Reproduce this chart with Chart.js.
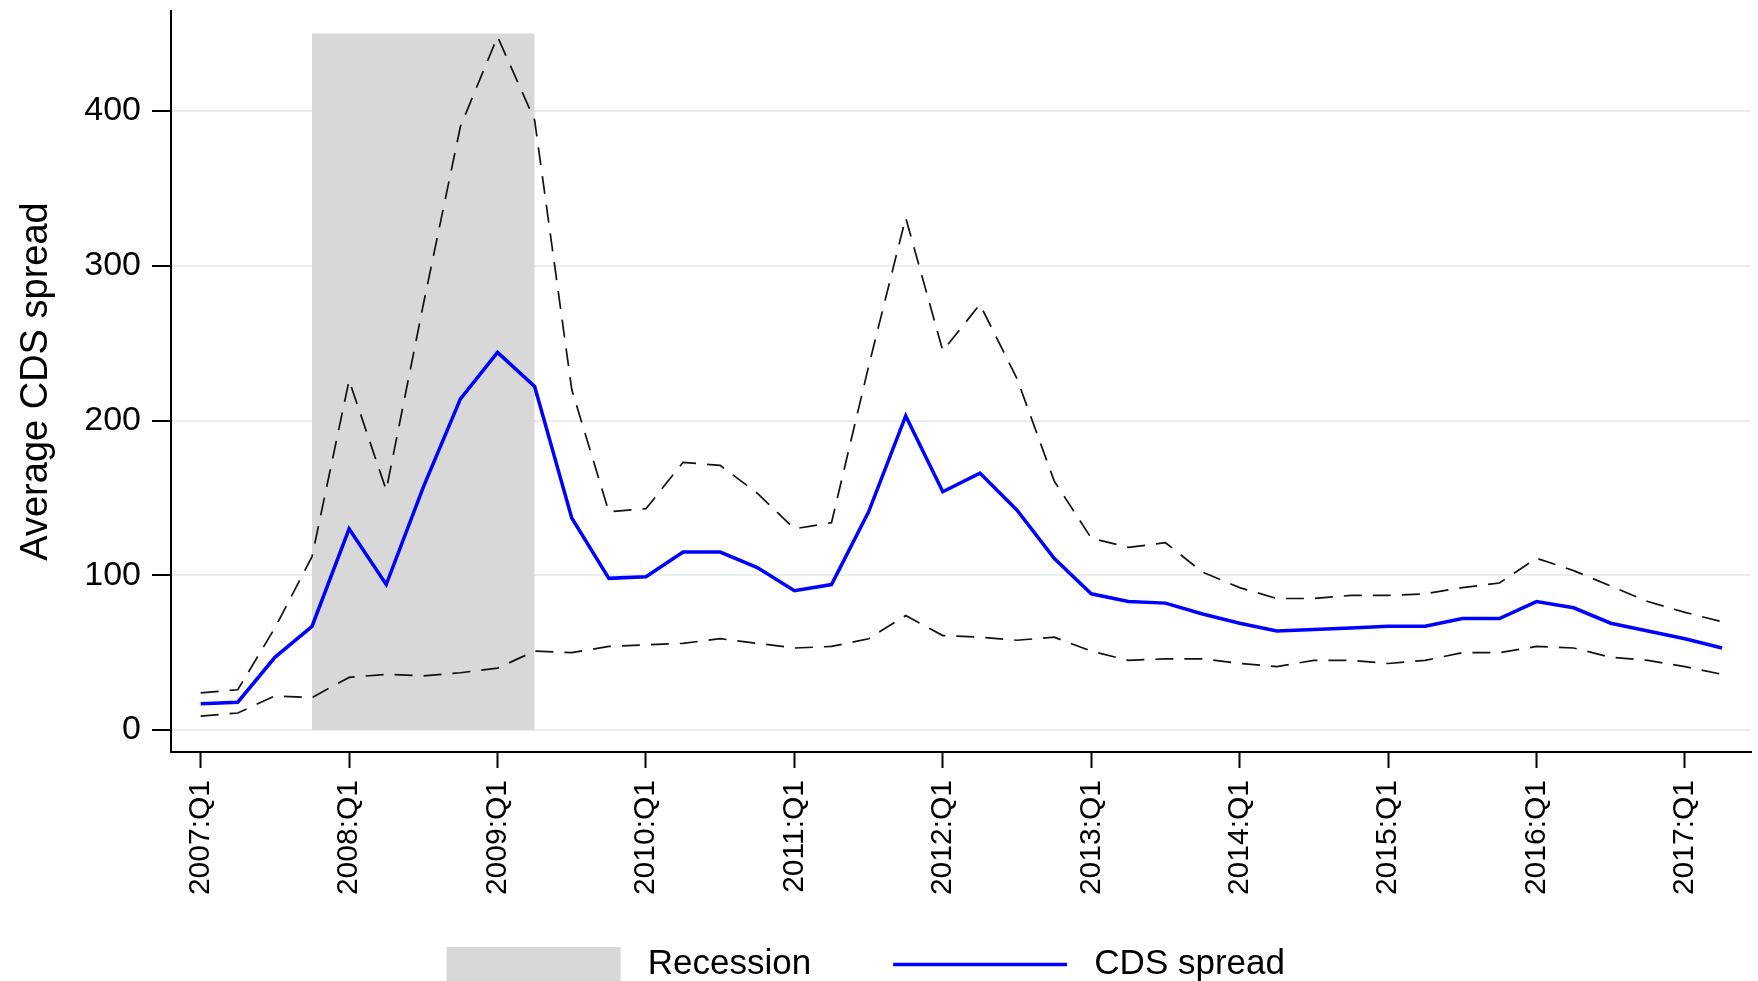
<!DOCTYPE html>
<html>
<head>
<meta charset="utf-8">
<title>Average CDS spread</title>
<script src="https://cdn.jsdelivr.net/npm/chart.js@4.4.1/dist/chart.umd.min.js"></script>
<style>
    html, body { margin: 0; padding: 0; background: #fff; overflow: hidden; }
    #wrap { position: relative; width: 1758px; height: 992px; }
</style>
</head>
<body>
<div id="wrap"><canvas id="chartCds"></canvas></div>
<script>
// Quarters 2007:Q1 .. 2017:Q2
const quarters = [];
for (let year = 2007; year <= 2017; year++) {
    for (let q = 1; q <= 4; q++) quarters.push(year + ':Q' + q);
}
quarters.length = 42;

// Average CDS spread (blue line)
const cdsSpread = [17, 18, 47, 67, 130, 94, 157, 214, 244, 222,
    137, 98, 99, 115, 115, 105, 90, 94, 141, 203,
    154, 166, 142, 111, 88, 83, 82, 75, 69, 64,
    65, 66, 67, 67, 72, 72, 83, 79, 69, 64,
    59, 53];

// Upper dashed band
const upperBand = [24, 26, 66, 112, 226, 155, 275, 390, 448, 394,
    220, 141, 143, 173, 171, 153, 130, 134, 235, 331,
    245, 275, 227, 161, 124, 118, 121, 102, 92, 85,
    85, 87, 87, 88, 92, 95, 111, 103, 93, 83,
    76, 70];

// Lower dashed band
const lowerBand = [9, 11, 22, 21, 34, 36, 35, 37, 40, 51,
    50, 54, 55, 56, 59, 56, 53, 54, 59, 74,
    61, 60, 58, 60, 51, 45, 46, 46, 43, 41,
    45, 45, 43, 45, 50, 50, 54, 53, 47, 45,
    41, 36];

// Recession shading
const recessionFrom = '2007:Q4';
const recessionTo = '2009:Q2';
const recessionTop = 450;

// Axis ticks
const xTickLabels = ['2007:Q1', '2008:Q1', '2009:Q1', '2010:Q1', '2011:Q1', '2012:Q1',
    '2013:Q1', '2014:Q1', '2015:Q1', '2016:Q1', '2017:Q1'];
const yTickValues = [0, 100, 200, 300, 400];

const FONT = "'Liberation Sans', Arial, Helvetica, sans-serif";

const toPoints = arr => arr.map((v, i) => ({ x: i, y: v }));

// legend text spacing (gap between key and text, and between the two entries)
const legendText = {
    'Recession': ' Recession    ',
    'CDS spread': ' CDS spread  '
};

const ctxCds = document.getElementById('chartCds').getContext('2d');

const cdsChart = new Chart(ctxCds, {
    type: 'line',
    data: {
        datasets: [
            {
                label: 'CDS spread',
                data: toPoints(cdsSpread),
                borderColor: '#0000ff',
                borderWidth: 3.5,
                pointRadius: 0,
                pointHoverRadius: 0,
                pointStyle: 'line',
                pointBorderColor: '#0000ff',
                pointBorderWidth: 3.5,
                fill: false,
                tension: 0
            },
            {
                label: 'Upper band',
                data: toPoints(upperBand),
                borderColor: '#111',
                borderWidth: 1.7,
                borderDash: [18, 11],
                pointRadius: 0,
                fill: false,
                tension: 0
            },
            {
                label: 'Lower band',
                data: toPoints(lowerBand),
                borderColor: '#111',
                borderWidth: 1.7,
                borderDash: [18, 11],
                pointRadius: 0,
                fill: false,
                tension: 0
            },
            {
                label: 'Recession',
                data: [
                    { x: quarters.indexOf(recessionFrom), y: recessionTop },
                    { x: quarters.indexOf(recessionTo), y: recessionTop }
                ],
                borderColor: 'rgba(0,0,0,0)',
                borderWidth: 0,
                backgroundColor: '#d8d8d8',
                pointRadius: 0,
                pointStyle: 'rect',
                pointBackgroundColor: '#d8d8d8',
                pointBorderWidth: 0,
                fill: 'origin',
                tension: 0
            }
        ]
    },
    options: {
        responsive: true,
        maintainAspectRatio: false,
        animation: false,
        devicePixelRatio: 1,
        layout: { padding: { top: 11, right: 7, left: 0, bottom: 0 } },
        plugins: {
            tooltip: { enabled: false },
            legend: {
                position: 'bottom',
                labels: {
                    usePointStyle: true,
                    pointStyleWidth: 174,
                    boxHeight: 35,
                    padding: 43,
                    color: '#000',
                    font: { family: FONT, size: 35 },
                    filter: item => item.datasetIndex === 0 || item.datasetIndex === 3,
                    sort: (a, b) => b.datasetIndex - a.datasetIndex,
                    generateLabels: chart => {
                        const items = Chart.defaults.plugins.legend.labels.generateLabels(chart);
                        items.forEach(it => { it.text = legendText[it.text] || it.text; });
                        return items;
                    }
                }
            }
        },
        scales: {
            x: {
                type: 'linear',
                min: -0.8,
                max: 41.78,
                afterBuildTicks: scale => {
                    scale.ticks = xTickLabels.map(l => ({ value: quarters.indexOf(l) }));
                },
                afterFit: scale => {
                    scale.height = 152;
                    scale.paddingLeft = 0;
                    scale.paddingRight = 0;
                },
                border: { color: '#000', width: 2 },
                grid: {
                    drawOnChartArea: false,
                    drawTicks: true,
                    tickLength: 16,
                    tickColor: '#000',
                    tickWidth: 2
                },
                ticks: {
                    autoSkip: false,
                    minRotation: 90,
                    maxRotation: 90,
                    padding: 12,
                    color: '#000',
                    font: { family: FONT, size: 30 },
                    callback: value => quarters[value]
                }
            },
            y: {
                min: -14.2,
                max: 464.6,
                afterBuildTicks: scale => {
                    scale.ticks = yTickValues.map(v => ({ value: v }));
                },
                afterFit: scale => {
                    scale.width = 171;
                    scale.paddingTop = 0;
                    scale.paddingBottom = 0;
                },
                border: { color: '#000', width: 2 },
                grid: {
                    color: '#e6eef0',
                    lineWidth: 2,
                    tickColor: '#000',
                    tickLength: 19,
                    tickWidth: 2
                },
                ticks: {
                    padding: 11,
                    color: '#000',
                    font: { family: FONT, size: 34 }
                },
                title: {
                    display: true,
                    text: 'Average CDS spread',
                    color: '#000',
                    font: { family: FONT, size: 38 },
                    padding: { top: 14, bottom: 0 }
                }
            }
        }
    }
});
</script>
</body>
</html>
